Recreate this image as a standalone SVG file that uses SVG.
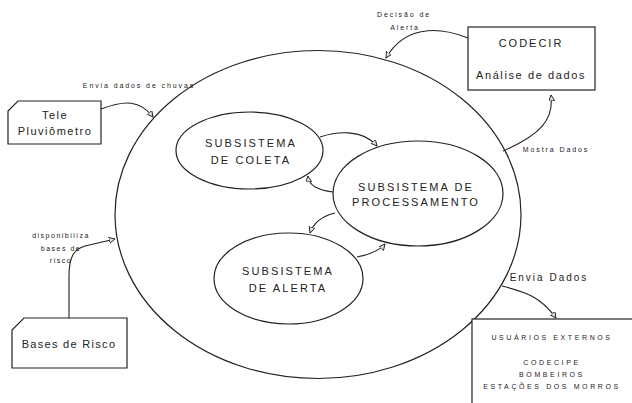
<svg xmlns="http://www.w3.org/2000/svg" width="632" height="403" viewBox="0 0 632 403">
<style>
.ln{fill:none;stroke:#222;stroke-width:1.1}
.sh{fill:#fff;stroke:#222;stroke-width:1.2}
.t{font-family:"Liberation Sans",Arial,sans-serif;fill:#222;text-anchor:middle}
.big{font-size:11px;letter-spacing:2.1px}
.box{font-size:11px;letter-spacing:1.5px}
.sm{font-size:7px;letter-spacing:1.9px}
.us{font-size:7px;letter-spacing:2.6px}
.ed{font-size:10px;letter-spacing:2px}
</style>
<defs>
<marker id="ah" markerUnits="userSpaceOnUse" markerWidth="8" markerHeight="8" refX="6" refY="3" orient="auto">
<path d="M0,0 L6,3 L0,6 z" fill="#ddd" stroke="#222" stroke-width="0.9"/>
</marker>
</defs>
<rect width="632" height="403" fill="#fff"/>
<g id="sistema">
<ellipse class="sh" cx="318" cy="214.5" rx="203" ry="164"/>
</g>
<g id="coleta">
<ellipse class="sh" cx="249.5" cy="150.5" rx="73.5" ry="38.5"/>
<text class="t big" x="251" y="147">SUBSISTEMA</text>
<text class="t big" x="251" y="164">DE COLETA</text>
</g>
<g id="processamento">
<ellipse class="sh" cx="418" cy="193.5" rx="85" ry="52.5"/>
<text class="t big" x="416" y="191">SUBSISTEMA DE</text>
<text class="t big" x="416" y="206">PROCESSAMENTO</text>
</g>
<g id="alerta">
<ellipse class="sh" cx="288.5" cy="278.5" rx="74.5" ry="45.5"/>
<text class="t big" x="288" y="275">SUBSISTEMA</text>
<text class="t big" x="288" y="292">DE ALERTA</text>
</g>
<g id="tele">
<path class="sh" d="M18,101 L101,101 L101,144 L8,144 L8,111 z"/>
<text class="t box" x="55" y="119">Tele</text>
<text class="t box" x="55" y="135">Pluviômetro</text>
</g>
<g id="bases">
<path class="sh" d="M24,318 L127,318 L127,368 L12,368 L12,330 z"/>
<text class="t box" x="69" y="348" style="letter-spacing:1.3px">Bases de Risco</text>
</g>
<g id="codecir">
<rect class="sh" x="468" y="27" width="127" height="63"/>
<text class="t box" x="531" y="47" style="letter-spacing:2px">CODECIR</text>
<text class="t box" x="531" y="79" style="letter-spacing:1.6px">Análise de dados</text>
</g>
<g id="usuarios">
<rect class="sh" x="472" y="319" width="200" height="120"/>
<text class="t us" x="552" y="340">USUÁRIOS EXTERNOS</text>
<text class="t us" x="552" y="365">CODECIPE</text>
<text class="t us" x="552" y="377">BOMBEIROS</text>
<text class="t us" x="552" y="389">ESTAÇÕES DOS MORROS</text>
</g>
<g id="connectors">
<path class="ln" marker-end="url(#ah)" d="M101,109 C125,100 140,100 153,117"/>
<path class="ln" marker-end="url(#ah)" d="M468,38 C448,30 408,20 386,58"/>
<path class="ln" marker-end="url(#ah)" d="M503,151 C540,135 554,120 551,95"/>
<path class="ln" marker-end="url(#ah)" d="M69,318 L69,276 C69,255 75,249 85,246 L115,239"/>
<path class="ln" marker-end="url(#ah)" d="M502,286 C525,292 540,296 556,318"/>
<path class="ln" marker-end="url(#ah)" d="M320,137 C335,132 362,128 377,146"/>
<path class="ln" marker-end="url(#ah)" d="M333,192 C318,190 309,186 308,176"/>
<path class="ln" marker-end="url(#ah)" d="M335,213 C322,216 314,222 310,233"/>
<path class="ln" marker-end="url(#ah)" d="M357,257 C372,254 380,250 385,244"/>
</g>
<g id="labels">
<text class="t sm" x="139" y="88">Envia dados de chuvas</text>
<text class="t sm" x="404" y="17">Decisão de</text>
<text class="t sm" x="405" y="30">Alerta</text>
<text class="t sm" x="556" y="152">Mostra Dados</text>
<text class="t sm" x="61" y="238" style="letter-spacing:1.5px">disponibiliza</text>
<text class="t sm" x="61" y="251" style="letter-spacing:1.5px">bases de</text>
<text class="t sm" x="61" y="263" style="letter-spacing:1.5px">risco</text>
<text class="t ed" x="549" y="281">Envia Dados</text>
</g>
</svg>
